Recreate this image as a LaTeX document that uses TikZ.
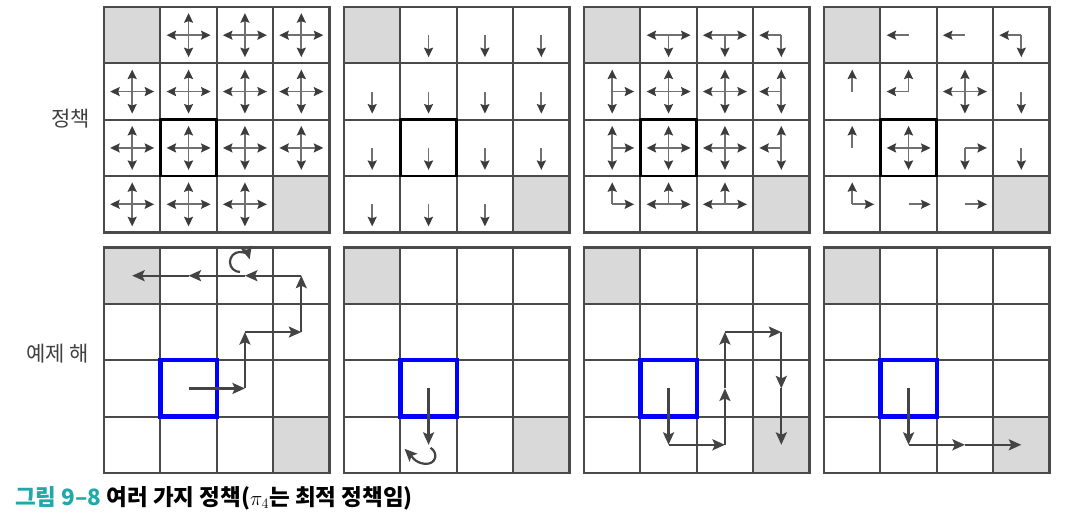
\documentclass[tikz,border=0pt]{standalone}
\usepackage{fontspec}
\newfontfamily\kr{Noto Sans CJK KR}
\usetikzlibrary{arrows.meta}
\definecolor{gridc}{HTML}{4A4A4A}
\definecolor{cellg}{HTML}{D9D9D9}
\definecolor{polline}{HTML}{707070}
\definecolor{polhead}{HTML}{3C3C3C}
\definecolor{trajc}{HTML}{444444}
\definecolor{capteal}{HTML}{1FA9A9}
\definecolor{labc}{HTML}{404040}
\newcommand\cs{56.375}
\newcommand\pol[4]{\foreach \a in {#4}{\draw[polarrow] ({#1+(#2+0.5)*\cs},{7+(#3+0.5)*\cs}) -- ++(\a:22pt);}}
\begin{document}
\begin{tikzpicture}[x=1pt,y=-1pt,
 gridline/.style={draw=gridc,line width=2.2pt},
 goal/.style={fill=cellg},
 focus/.style={draw=black,line width=2.6pt},
 startbox/.style={draw=blue,line width=4.3pt},
 polarrow/.style={draw=polline,line width=1.7pt,-{Stealth[length=9.5pt,width=9pt,inset=1.5pt,color=polhead]}},
 traj/.style={draw=trajc,line width=2.2pt,-{Stealth[length=12.5pt,width=11pt,inset=2.5pt]}},
 lab/.style={font=\kr\fontsize{21}{25}\selectfont,text=labc,anchor=east,inner sep=0pt},
]
\useasboundingbox (0,0) rectangle (1069,529);
\fill[white] (0,0) rectangle (1069,529);
% grids
\foreach \px in {104,344,584,824}{
 \foreach \py in {7,247.5}{
  \fill[goal] (\px,\py) rectangle ++(\cs,\cs);
  \fill[goal] ({\px+3*\cs},{\py+3*\cs}) rectangle ++(\cs,\cs);
  \foreach \i in {1,2,3}{
   \draw[gridline] ({\px+\i*\cs},\py) -- ++(0,225.5);
   \draw[gridline] (\px,{\py+\i*\cs}) -- ++(225.5,0);
  }
  \draw[gridline] (\px,\py) rectangle ++(225.5,225.5);
 }
 \draw[focus] ({\px+\cs},{7+2*\cs}) rectangle ++(\cs,\cs);
}
% policy 1: all directions
\foreach \c/\r in {1/0,2/0,3/0,0/1,1/1,2/1,3/1,0/2,1/2,2/2,3/2,0/3,1/3,2/3}{\pol{104}{\c}{\r}{0,90,180,270}}
% policy 2: all down
\foreach \c/\r in {1/0,2/0,3/0,0/1,1/1,2/1,3/1,0/2,1/2,2/2,3/2,0/3,1/3,2/3}{\pol{344}{\c}{\r}{270}}
% policy 3
\pol{584}{1}{0}{0,180,270}
\pol{584}{2}{0}{0,180,270}
\pol{584}{3}{0}{180,270}
\pol{584}{0}{1}{90,270,0}
\pol{584}{1}{1}{0,90,180,270}
\pol{584}{2}{1}{0,90,180,270}
\pol{584}{3}{1}{90,270,180}
\pol{584}{0}{2}{90,270,0}
\pol{584}{1}{2}{0,90,180,270}
\pol{584}{2}{2}{0,90,180,270}
\pol{584}{3}{2}{90,270,180}
\pol{584}{0}{3}{90,0}
\pol{584}{1}{3}{180,0,90}
\pol{584}{2}{3}{180,0,90}
% policy 4
\pol{824}{1}{0}{180}
\pol{824}{2}{0}{180}
\pol{824}{3}{0}{180,270}
\pol{824}{0}{1}{90}
\pol{824}{1}{1}{180,90}
\pol{824}{2}{1}{0,90,180,270}
\pol{824}{3}{1}{270}
\pol{824}{0}{2}{90}
\pol{824}{1}{2}{0,90,180,270}
\pol{824}{2}{2}{270,0}
\pol{824}{3}{2}{270}
\pol{824}{0}{3}{90,0}
\pol{824}{1}{3}{0}
\pol{824}{2}{3}{0}
% start boxes
\foreach \px in {104,344,584,824}{
 \draw[startbox] ({\px+\cs},{247.5+2*\cs}) rectangle ++(\cs,\cs);
}
% trajectory 1
\coordinate (a0) at ({104+1.5*\cs},{247.5+2.5*\cs});
\coordinate (a1) at ({104+2.5*\cs},{247.5+2.5*\cs});
\coordinate (a2) at ({104+2.5*\cs},{247.5+1.5*\cs});
\coordinate (a3) at ({104+3.5*\cs},{247.5+1.5*\cs});
\coordinate (a4) at ({104+3.5*\cs},{247.5+0.5*\cs});
\coordinate (a5) at ({104+2.5*\cs},{247.5+0.5*\cs});
\coordinate (a6) at ({104+1.5*\cs},{247.5+0.5*\cs});
\coordinate (a7) at ({104+0.5*\cs},{247.5+0.5*\cs});
\draw[traj] (a0) -- (a1);
\draw[traj] (a1) -- (a2);
\draw[traj] (a2) -- (a3);
\draw[traj] (a3) -- (a4);
\draw[traj] (a4) -- (a5);
\draw[traj] ([shift={(-5,-3.7)}]a5) arc[start angle=270,end angle=15,radius=10pt];
\draw[traj] (a5) -- (a6);
\draw[traj] (a6) -- (a7);
% trajectory 2
\coordinate (b0) at ({344+1.5*\cs},{247.5+2.5*\cs});
\coordinate (b1) at ({344+1.5*\cs},{247.5+3.5*\cs});
\draw[traj] (b0) -- (b1);
\draw[traj] ([shift={(2,3)}]b1) .. controls ([shift={(10,8)}]b1) and ([shift={(8,20)}]b1) .. ([shift={(-4,19)}]b1)
  .. controls ([shift={(-14,18)}]b1) and ([shift={(-18,10)}]b1) .. ([shift={(-24,4)}]b1);
% trajectory 3
\coordinate (c0) at ({584+1.5*\cs},{247.5+2.5*\cs});
\coordinate (c1) at ({584+1.5*\cs},{247.5+3.5*\cs});
\coordinate (c2) at ({584+2.5*\cs},{247.5+3.5*\cs});
\coordinate (c3) at ({584+2.5*\cs},{247.5+2.5*\cs});
\coordinate (c4) at ({584+2.5*\cs},{247.5+1.5*\cs});
\coordinate (c5) at ({584+3.5*\cs},{247.5+1.5*\cs});
\coordinate (c6) at ({584+3.5*\cs},{247.5+2.5*\cs});
\coordinate (c7) at ({584+3.5*\cs},{247.5+3.5*\cs});
\draw[traj] (c0) -- (c1);
\draw[traj] (c1) -- (c2);
\draw[traj] (c2) -- (c3);
\draw[traj] (c3) -- (c4);
\draw[traj] (c4) -- (c5);
\draw[traj] (c5) -- (c6);
\draw[traj] (c6) -- (c7);
% trajectory 4
\coordinate (d0) at ({824+1.5*\cs},{247.5+2.5*\cs});
\coordinate (d1) at ({824+1.5*\cs},{247.5+3.5*\cs});
\coordinate (d2) at ({824+2.5*\cs},{247.5+3.5*\cs});
\coordinate (d3) at ({824+3.5*\cs},{247.5+3.5*\cs});
\draw[traj] (d0) -- (d1);
\draw[traj] (d1) -- (d2);
\draw[traj] (d2) -- (d3);
% labels
\node[lab] (l1) at (90,119) {정책};
\node[lab] (l2) at (89,354) {예제 해};
\node[anchor=west,inner sep=0pt,font=\kr\bfseries\fontsize{22.5}{26}\selectfont] (cap) at (15,498)
  {\textcolor{capteal}{그림 9–8} 여러 가지 정책($\pi_4$는 최적 정책임)};
\end{tikzpicture}
\end{document}
